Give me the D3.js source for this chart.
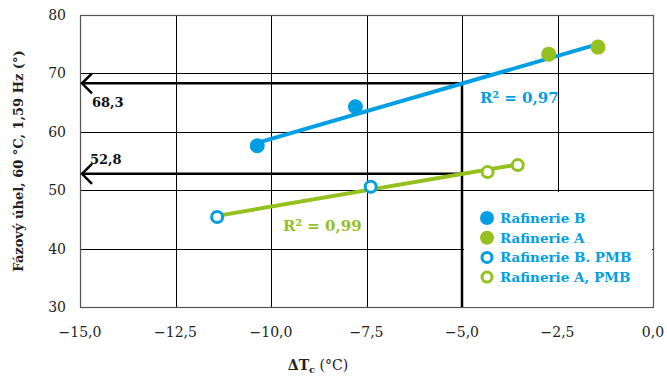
<!DOCTYPE html>
<html>
<head>
<meta charset="utf-8">
<script src="https://cdn.jsdelivr.net/npm/d3@7"></script>
<style>
  html, body { margin: 0; padding: 0; background: #fff; }
  svg { display: block; font-family: "DejaVu Serif", serif; }
</style>
</head>
<body>
<svg id="chart" width="667" height="377"></svg>
<script>
// data
const xTicks = [-15, -12.5, -10, -7.5, -5, -2.5, 0];
const yTicks = [30, 40, 50, 60, 70, 80];

const rafB = [[-10.36, 57.6], [-7.79, 64.3]];
const rafA = [[-2.73, 73.3], [-1.44, 74.5]];
const rafBPmb = [[-11.41, 45.4], [-7.39, 50.6]];
const rafAPmb = [[-4.33, 53.1], [-3.54, 54.3]];

const fitUpper = [[-10.36, 58.1], [-1.44, 75.0]];
const fitLower = [[-11.41, 45.6], [-3.54, 54.4]];

const readX = -5;
const readValues = [68.3, 52.8];
const readLabels = ["68,3", "52,8"];

const legendItems = [
  { name: "Rafinerie B", color: "#009fe3", open: false },
  { name: "Rafinerie A", color: "#95c11f", open: false },
  { name: "Rafinerie B. PMB", color: "#009fe3", open: true },
  { name: "Rafinerie A, PMB", color: "#95c11f", open: true },
];

const BLUE = "#009fe3", GREEN = "#95c11f";

const svg = d3.select("#chart");
const margin = { left: 80, right: 14, top: 15, bottom: 70 };
const W = 667, H = 377;

const x = d3.scaleLinear().domain([-15, 0]).range([margin.left, W - margin.right]);
const y = d3.scaleLinear().domain([30, 80]).range([H - margin.bottom, margin.top]);

const fmt = (v) => d3.format(".1f")(v).replace(".", ",").replace("-", "\u2212");

// grid
svg.append("g").selectAll("line").data(yTicks).join("line")
  .attr("x1", x(-15)).attr("x2", x(0))
  .attr("y1", (d) => Math.round(y(d)) + 0.5).attr("y2", (d) => Math.round(y(d)) + 0.5)
  .attr("stroke", "#000").attr("stroke-width", 1);
svg.append("g").selectAll("line").data(xTicks).join("line")
  .attr("y1", y(30)).attr("y2", y(80))
  .attr("x1", (d) => Math.round(x(d)) + 0.5).attr("x2", (d) => Math.round(x(d)) + 0.5)
  .attr("stroke", "#000").attr("stroke-width", 1);
svg.append("rect")
  .attr("x", x(-15) + 0.5).attr("y", y(80) + 0.5)
  .attr("width", x(0) - x(-15)).attr("height", y(30) - y(80))
  .attr("fill", "none").attr("stroke", "#555").attr("stroke-width", 1.2);

// legend background
svg.append("rect")
  .attr("x", x(-5) + 2).attr("y", 192)
  .attr("width", x(0) - x(-5) - 3).attr("height", y(30) - 192)
  .attr("fill", "#fff");

// tick labels
svg.append("g").selectAll("text").data(yTicks).join("text")
  .attr("x", 66).attr("y", (d) => y(d) + 5)
  .attr("text-anchor", "end").attr("font-size", 14).attr("fill", "#222")
  .text((d) => d);
svg.append("g").selectAll("text").data(xTicks).join("text")
  .attr("x", (d) => x(d)).attr("y", y(30) + 30)
  .attr("text-anchor", "middle").attr("font-size", 14).attr("fill", "#222")
  .text(fmt);

// axis titles
svg.append("text")
  .attr("transform", `translate(23,${(y(30) + y(80)) / 2}) rotate(-90)`)
  .attr("text-anchor", "middle").attr("font-size", 13).attr("font-weight", "bold")
  .attr("fill", "#222")
  .text("Fázový úhel, 60 °C, 1,59 Hz (°)");
const xt = svg.append("text")
  .attr("x", 318).attr("y", 370).attr("text-anchor", "middle")
  .attr("font-size", 14).attr("fill", "#222");
xt.append("tspan").attr("font-weight", "bold").text("ΔT");
xt.append("tspan").attr("font-weight", "bold").attr("font-size", 10).attr("dy", 3).text("c");
xt.append("tspan").attr("dy", -3).text(" (°C)");

// reading lines
svg.append("line")
  .attr("x1", x(readX)).attr("x2", x(readX))
  .attr("y1", y(30)).attr("y2", y(readValues[0]))
  .attr("stroke", "#000").attr("stroke-width", 2.5);
const arrows = svg.append("g").selectAll("g").data(readValues).join("g");
arrows.append("line")
  .attr("x1", x(-15) + 2).attr("x2", x(readX))
  .attr("y1", (d) => y(d)).attr("y2", (d) => y(d))
  .attr("stroke", "#000").attr("stroke-width", 2.5);
arrows.append("path")
  .attr("d", (d) => `M${x(-15) + 12},${y(d) - 10} L${x(-15) + 2},${y(d)} L${x(-15) + 12},${y(d) + 10}`)
  .attr("fill", "none").attr("stroke", "#000").attr("stroke-width", 2.5);
svg.append("g").selectAll("text").data(readValues).join("text")
  .attr("x", (d, i) => (i === 0 ? 92 : 90))
  .attr("y", (d, i) => (i === 0 ? y(d) + 24 : y(d) - 10))
  .attr("font-size", 13).attr("font-weight", "bold").attr("fill", "#111")
  .text((d, i) => readLabels[i]);

// fit lines
const line = d3.line().x((d) => x(d[0])).y((d) => y(d[1]));
svg.append("path").datum(fitUpper).attr("d", line)
  .attr("stroke", BLUE).attr("stroke-width", 4).attr("fill", "none");
svg.append("path").datum(fitLower).attr("d", line)
  .attr("stroke", GREEN).attr("stroke-width", 4).attr("fill", "none");

// points
function filled(data, color) {
  svg.append("g").selectAll("circle").data(data).join("circle")
    .attr("cx", (d) => x(d[0])).attr("cy", (d) => y(d[1])).attr("r", 7.5)
    .attr("fill", color);
}
function hollow(data, color) {
  svg.append("g").selectAll("circle").data(data).join("circle")
    .attr("cx", (d) => x(d[0])).attr("cy", (d) => y(d[1])).attr("r", 5.5)
    .attr("fill", "#fff").attr("stroke", color).attr("stroke-width", 3);
}
filled(rafB, BLUE);
filled(rafA, GREEN);
hollow(rafBPmb, BLUE);
hollow(rafAPmb, GREEN);

// R² labels
const r1 = svg.append("text").attr("x", 480).attr("y", 103)
  .attr("font-size", 15).attr("font-weight", "bold").attr("fill", BLUE);
r1.text("R² = 0,97");
svg.append("text").attr("x", 283).attr("y", 231)
  .attr("font-size", 15).attr("font-weight", "bold").attr("fill", GREEN)
  .text("R² = 0,99");

// legend
const lg = svg.append("g").selectAll("g").data(legendItems).join("g")
  .attr("transform", (d, i) => `translate(487,${218 + i * 19.7})`);
lg.append("circle")
  .attr("r", (d) => (d.open ? 5 : 7))
  .attr("fill", (d) => (d.open ? "#fff" : d.color))
  .attr("stroke", (d) => (d.open ? d.color : "none"))
  .attr("stroke-width", 3);
lg.append("text")
  .attr("x", 13).attr("y", 5)
  .attr("font-size", 13.5).attr("font-weight", "bold").attr("fill", BLUE)
  .text((d) => d.name);
</script>
</body>
</html>
